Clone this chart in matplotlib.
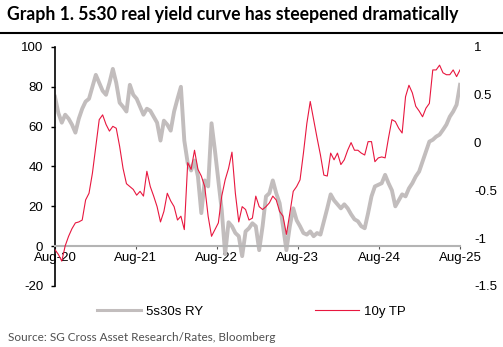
import matplotlib
matplotlib.use("Agg")
import matplotlib.pyplot as plt
import matplotlib.dates as mdates
from matplotlib.lines import Line2D
import pandas as pd

plt.rcParams["font.family"] = ["Liberation Sans", "DejaVu Sans"]
plt.rcParams["axes.unicode_minus"] = False

# ~semi-monthly readings, Aug 2020 -> Aug 2025
dates = pd.date_range("2020-08-01", "2025-08-01", periods=120)

# 5s30s real yield curve, bp (left axis)
ry_5s30s = [75, 66.8, 62, 66, 64, 61, 57, 64, 69, 72.6,
            74, 80, 86, 82, 78, 76, 82, 89, 82, 72,
            70, 67.6, 81, 76, 74, 70, 66, 69, 68, 65,
            62, 53, 63, 61, 58, 67.6, 74, 80, 53, 41.7,
            38, 43, 35, 16.6, 33, 30, 61.7, 48, 33, 18,
            -4, 12, 10, 6.6, 5, -5, 7.4, 9, 11.5, 10,
            -2, 10, 25, 26.6, 33, 26.6, 21.6, 10, -2, 10,
            19, 13, 10, 6.6, 5.8, 7.4, 5, 6.6, 5.8, 12.4,
            19, 26, 23, 21, 19, 21, 19, 16, 13.5, 12.5,
            10, 9, 16.6, 25, 30, 30.8, 31.6, 35.8, 31.6, 28,
            20, 23, 26, 25, 29, 31.6, 35, 37.5, 42.5, 47.5,
            52.5, 53.4, 55, 56, 58.4, 61, 65, 67.6, 71, 81]

# 10y term premium, % (right axis)
tp_10y = [-1.12, -1.17, -1.24, -1.08, -0.98, -0.90, -0.84, -0.83, -0.81, -0.60,
          -0.53, -0.32, -0.04, 0.24, 0.29, 0.19, 0.12, 0.17, 0.15, -0.04,
          -0.27, -0.43, -0.46, -0.49, -0.55, -0.51, -0.56, -0.30, -0.46, -0.56,
          -0.67, -0.83, -0.72, -0.53, -0.61, -0.67, -0.81, -0.77, -0.91, -0.21,
          -0.28, -0.08, -0.28, -0.35, -0.46, -0.77, -0.98, -0.91, -0.84, -0.56,
          -0.39, -0.27, -0.10, -0.53, -0.83, -0.67, -0.70, -0.81, -0.79, -0.56,
          -0.67, -0.70, -0.67, -0.63, -0.56, -0.60, -0.72, -0.77, -0.96, -0.74,
          -0.51, -0.46, -0.39, -0.11, 0.20, 0.43, 0.24, 0.05, -0.13, -0.34,
          -0.35, -0.11, -0.18, -0.11, -0.23, -0.18, -0.08, 0.00, -0.08, -0.08,
          -0.11, -0.13, 0.01, 0.01, -0.20, -0.16, -0.15, -0.16, 0.05, 0.24,
          0.22, 0.15, 0.10, 0.48, 0.60, 0.52, 0.38, 0.33, 0.27, 0.36,
          0.41, 0.76, 0.76, 0.81, 0.73, 0.71, 0.71, 0.76, 0.69, 0.76]

left_ticks = [-20, 0, 20, 40, 60, 80, 100]
right_ticks = [-1.5, -1, -0.5, 0, 0.5, 1]
right_labels = ["-1.5", "-1", "-0.5", "0", "0.5", "1"]

grey = "#c2bdbd"
red = "#e8173f"

fig = plt.figure(figsize=(5.03, 3.47), dpi=100)
ax = fig.add_axes([0.1093, 0.1758, 0.8052, 0.6888])
ax2 = ax.twinx()

ax.plot(dates, ry_5s30s, color=grey, lw=2.8, solid_joinstyle="round")
ax2.plot(dates, tp_10y, color=red, lw=0.8)

ax.set_ylim(-20, 100)
ax2.set_ylim(-1.5, 1)
ax.set_xlim(pd.Timestamp("2020-08-01"), pd.Timestamp("2025-08-01"))

ax.set_yticks(left_ticks)
ax.set_yticklabels([str(v) for v in left_ticks])
ax2.set_yticks(right_ticks)
ax2.set_yticklabels(right_labels)

ax.xaxis.set_major_locator(mdates.MonthLocator(bymonth=8))
ax.xaxis.set_major_formatter(mdates.DateFormatter("Aug-%y"))

for s in ["top", "right"]:
    ax.spines[s].set_visible(False)
for s in ["top", "right", "left", "bottom"]:
    ax2.spines[s].set_visible(False)
ax.spines["bottom"].set_position(("data", 0))
ax.spines["bottom"].set_color("#b4b4b4")
ax.spines["bottom"].set_linewidth(1.5)
ax.spines["left"].set_linewidth(1.2)

ax.tick_params(axis="y", length=3, width=1, pad=5.5, labelsize=9.5)
ax.tick_params(axis="x", length=2.5, width=0.8, color="#555555", pad=2, labelsize=9.5)
ax2.tick_params(axis="y", length=0, pad=10, labelsize=9.5)

# title and rule
fig.text(0.014, 0.957, "Graph 1. 5s30 real yield curve has steepened dramatically",
         fontsize=12.7, fontweight="bold", family=["Lato", "DejaVu Sans"], va="center")
fig.add_artist(plt.Line2D([0, 1], [0.904, 0.904], color="black", lw=1.5))

# legend
handles = [Line2D([], [], color=grey, lw=2.2), Line2D([], [], color=red, lw=0.8)]
fig.legend(handles, ["5s30s RY", "10y TP"], loc="center", bbox_to_anchor=(0.5, 0.101),
           ncol=2, frameon=False, fontsize=9.5, handlelength=3.3, columnspacing=8.5,
           handletextpad=0.4)

fig.text(0.016, 0.026, "Source: SG Cross Asset Research/Rates, Bloomberg",
         fontsize=8.5, color="#505050", family=["Lato", "DejaVu Sans"], va="center")

fig.savefig("out.png", dpi=100)
